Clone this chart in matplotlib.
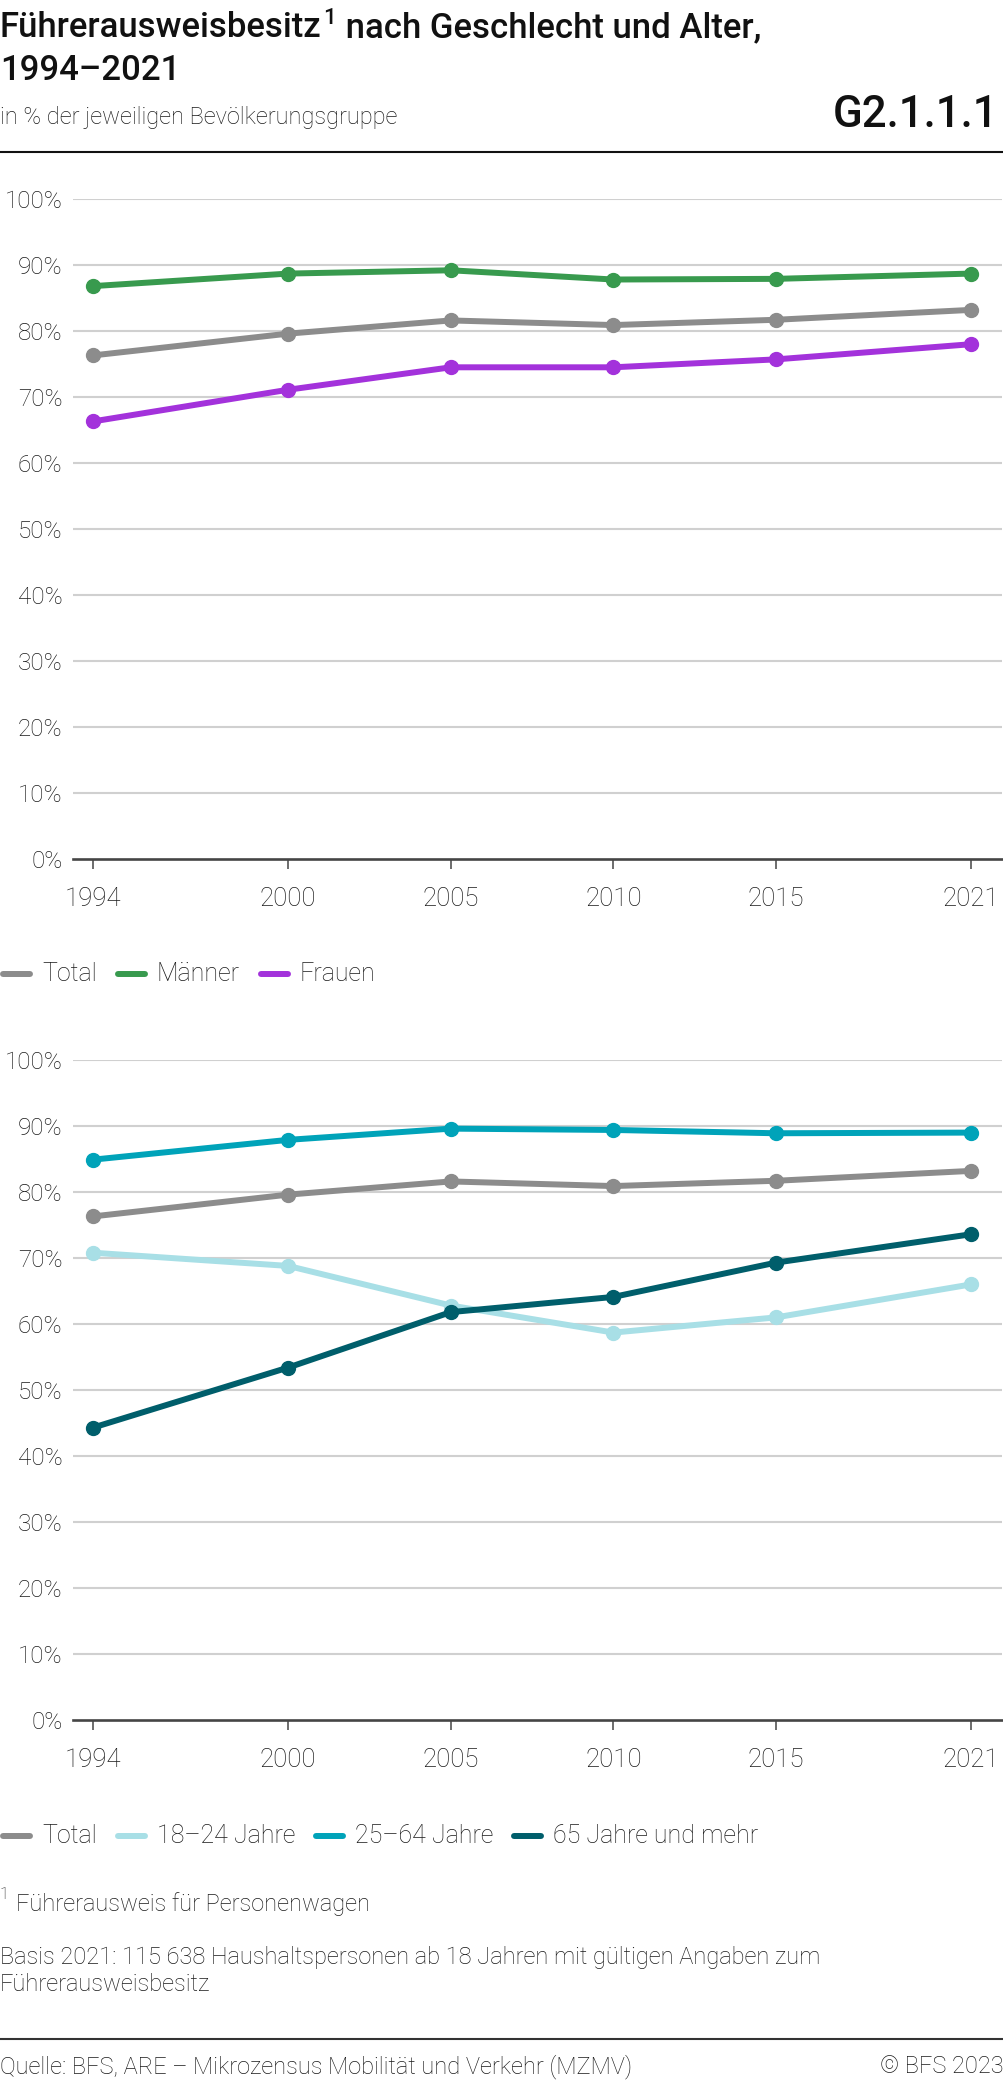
import matplotlib
matplotlib.use("Agg")
import matplotlib.pyplot as plt
from matplotlib.lines import Line2D

# Daten
jahre = [1994, 2000, 2005, 2010, 2015, 2021]

total = [76.3, 79.6, 81.6, 80.9, 81.7, 83.2]
maenner = [86.8, 88.7, 89.2, 87.8, 87.9, 88.7]
frauen = [66.3, 71.1, 74.5, 74.5, 75.7, 78.0]

j18_24 = [70.8, 68.8, 62.8, 58.7, 61.0, 66.0]
j25_64 = [84.9, 87.9, 89.6, 89.4, 88.9, 89.0]
j65plus = [44.3, 53.4, 61.8, 64.1, 69.3, 73.6]

y_ticks = [0, 10, 20, 30, 40, 50, 60, 70, 80, 90, 100]
y_labels = [f"{v}%" for v in y_ticks]

C_TOTAL = "#8c8c8c"
C_MAENNER = "#389a4e"
C_FRAUEN = "#a332db"
C_18 = "#a8dfe6"
C_25 = "#00a3b9"
C_65 = "#005e6b"

W, H = 1004, 2082
FONT = "Roboto"
TXT = "#1a1a1a"


def fx(x):
    return x / W


def fy(y):
    return 1 - y / H


fig = plt.figure(figsize=(W / 100, H / 100), dpi=100)
renderer = fig.canvas.get_renderer()


def right_edge(t):
    return t.get_window_extent(renderer=renderer).x1


def make_axes(top, bottom, series):
    # x-Achse: 1994 bei ~93 px, 2021 bei ~971 px
    ax = fig.add_axes([fx(73), fy(bottom), fx(1002 - 73), (bottom - top) / H])
    for vals, col in series:
        ax.plot(jahre, vals, color=col, lw=4.3, marker="o", ms=10,
                solid_capstyle="round", clip_on=False, zorder=3)
    ax.set_xlim(1993.385, 2021.95)
    ax.set_ylim(0, 100)
    ax.set_yticks(y_ticks)
    ax.set_yticklabels(y_labels)
    ax.set_xticks(jahre)
    ax.set_xticklabels([str(j) for j in jahre])
    for s in ax.spines.values():
        s.set_visible(False)
    for v in y_ticks[1:]:
        ax.axhline(v, color="#d0d0d0", lw=1.5, zorder=1)
    ax.axhline(0, color="#454545", lw=1.9, zorder=2, clip_on=False)
    ax.tick_params(axis="y", length=0, pad=7.5, labelsize=17.5)
    ax.tick_params(axis="x", length=7, width=1.1, color="#454545",
                   direction="out", pad=13, labelsize=18.5)
    for lab in ax.get_xticklabels() + ax.get_yticklabels():
        lab.set_fontfamily(FONT)
        lab.set_fontweight("light")
        lab.set_color(TXT)
    return ax


def draw_legend(y, items):
    x = 0
    for label, col in items:
        fig.add_artist(Line2D([fx(x + 3), fx(x + 30)], [fy(y), fy(y)],
                              color=col, lw=4.3, solid_capstyle="round",
                              transform=fig.transFigure))
        t = fig.text(fx(x + 42), fy(y), label, fontsize=18, family=FONT,
                     weight="light", va="center", color=TXT)
        x = right_edge(t) + 18


# Titel
t = fig.text(0, fy(37), "Führerausweisbesitz", fontsize=25, family=FONT,
             weight="medium", color="#111111")
x_end = right_edge(t)
s = fig.text(fx(x_end + 1), fy(24), "1", fontsize=16, family=FONT,
             weight="medium", color="#111111")
x_end = right_edge(s)
fig.text(fx(x_end + 2), fy(37), " nach Geschlecht und Alter,", fontsize=25,
         family=FONT, weight="medium", color="#111111")
fig.text(0, fy(80), "1994–2021", fontsize=25, family=FONT, weight="medium",
         color="#111111")
fig.text(0, fy(124), "in % der jeweiligen Bevölkerungsgruppe", fontsize=17,
         family=FONT, weight="light", color=TXT)
fig.text(fx(998), fy(127), "G2.1.1.1", fontsize=31.5, family=FONT,
         weight="medium", ha="right", color="#111111")
fig.add_artist(Line2D([0, 1], [fy(151.5), fy(151.5)], color="#111111", lw=1.5,
                      transform=fig.transFigure))

# Grafik 1: Geschlecht
make_axes(199, 859, [(total, C_TOTAL), (maenner, C_MAENNER), (frauen, C_FRAUEN)])
draw_legend(974, [("Total", C_TOTAL), ("Männer", C_MAENNER), ("Frauen", C_FRAUEN)])

# Grafik 2: Alter
make_axes(1060, 1720, [(total, C_TOTAL), (j18_24, C_18), (j25_64, C_25), (j65plus, C_65)])
draw_legend(1836, [("Total", C_TOTAL), ("18–24 Jahre", C_18),
                   ("25–64 Jahre", C_25), ("65 Jahre und mehr", C_65)])

# Fussnoten
fig.text(0, fy(1899), "1", fontsize=12, family=FONT, weight="light", color=TXT)
fig.text(fx(16), fy(1911), "Führerausweis für Personenwagen", fontsize=17,
         family=FONT, weight="light", color=TXT)
fig.text(0, fy(1964), "Basis 2021: 115 638 Haushaltspersonen ab 18 Jahren mit gültigen Angaben zum",
         fontsize=17, family=FONT, weight="light", color=TXT)
fig.text(0, fy(1991), "Führerausweisbesitz", fontsize=17, family=FONT,
         weight="light", color=TXT)
fig.add_artist(Line2D([0, 1], [fy(2039), fy(2039)], color="#333333", lw=1.5,
                      transform=fig.transFigure))
fig.text(0, fy(2073), "Quelle: BFS, ARE – Mikrozensus Mobilität und Verkehr (MZMV)",
         fontsize=17, family=FONT, weight="light", color=TXT)
fig.text(1, fy(2073), "© BFS 2023", fontsize=17, family=FONT, weight="light",
         ha="right", color=TXT)

fig.savefig("out.png", dpi=100)
